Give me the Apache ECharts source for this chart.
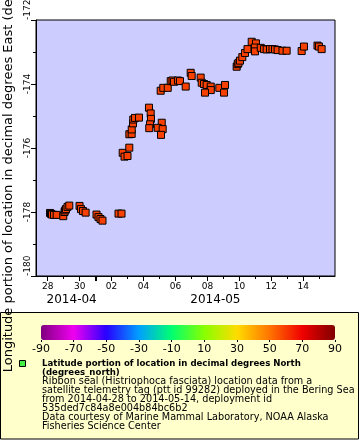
<!DOCTYPE html>
<html><head><meta charset="utf-8">
<script src="https://cdn.jsdelivr.net/npm/echarts@6/dist/echarts.min.js"></script>
<style>html,body{margin:0;padding:0;background:#fff}#c{width:360px;height:440px}</style>
</head><body><div id="c"></div>
<script>
// ---- data ----
const times = [
 '2014-04-28T03:30Z','2014-04-28T05:00Z','2014-04-28T06:30Z','2014-04-28T09:30Z','2014-04-28T13:30Z',
 '2014-04-28T23:25Z','2014-04-29T01:15Z','2014-04-29T02:20Z','2014-04-29T03:30Z','2014-04-29T05:45Z','2014-04-29T08:25Z',
 '2014-04-29T23:50Z','2014-04-30T02:00Z','2014-04-30T05:00Z','2014-04-30T09:00Z',
 '2014-05-01T01:20Z','2014-05-01T04:20Z','2014-05-01T07:20Z','2014-05-01T10:20Z',
 '2014-05-02T10:25Z','2014-05-02T14:55Z',
 '2014-05-02T16:40Z','2014-05-02T19:25Z','2014-05-02T23:55Z','2014-05-03T02:35Z',
 '2014-05-03T02:40Z','2014-05-03T06:10Z','2014-05-03T06:15Z','2014-05-03T08:10Z','2014-05-03T08:35Z','2014-05-03T11:10Z','2014-05-03T17:10Z',
 '2014-05-04T08:10Z','2014-05-04T10:45Z','2014-05-04T11:10Z','2014-05-04T09:40Z','2014-05-04T08:35Z',
 '2014-05-05T03:20Z','2014-05-04T21:20Z','2014-05-05T04:45Z','2014-05-05T02:15Z',
 '2014-05-05T01:45Z','2014-05-05T05:40Z','2014-05-05T12:20Z','2014-05-05T16:50Z','2014-05-05T19:30Z','2014-05-05T21:45Z',
 '2014-05-06T03:45Z','2014-05-06T06:45Z','2014-05-06T15:20Z',
 '2014-05-06T22:50Z','2014-05-07T00:20Z',
 '2014-05-07T13:50Z','2014-05-07T15:25Z','2014-05-07T18:50Z','2014-05-07T22:50Z','2014-05-08T04:55Z','2014-05-08T05:00Z','2014-05-07T20:20Z',
 '2014-05-08T17:50Z','2014-05-09T02:25Z','2014-05-09T00:55Z',
 '2014-05-09T19:55Z','2014-05-09T21:25Z','2014-05-09T22:40Z','2014-05-10T00:55Z','2014-05-10T04:25Z','2014-05-10T08:25Z','2014-05-10T12:10Z',
 '2014-05-10T18:30Z','2014-05-11T00:55Z','2014-05-10T23:25Z','2014-05-10T23:30Z','2014-05-11T08:05Z',
 '2014-05-11T13:00Z','2014-05-11T17:00Z','2014-05-11T22:00Z','2014-05-12T01:45Z','2014-05-12T05:30Z','2014-05-12T09:30Z','2014-05-12T16:45Z','2014-05-12T23:00Z',
 '2014-05-13T21:35Z','2014-05-14T01:00Z',
 '2014-05-14T21:20Z','2014-05-14T23:35Z','2014-05-15T03:35Z'
];
const lons = [
 -178.03,-178.06,-178.08,-178.09,-178.09,
 -178.13,-178.00,-177.95,-177.91,-177.84,-177.80,
 -177.81,-177.91,-177.97,-178.02,
 -178.08,-178.16,-178.22,-178.27,
 -178.05,-178.05,
 -176.15,-176.27,-176.25,-175.99,
 -175.57,-175.56,-175.42,-175.23,-175.11,-175.06,-175.05,
 -174.74,-174.92,-175.09,-175.26,-175.38,
 -175.21,-175.37,-175.41,-175.59,
 -174.21,-174.12,-174.12,-173.91,-173.89,-173.93,
 -173.89,-173.91,-174.08,
 -173.65,-173.75,
 -173.80,-173.96,-174.00,-174.03,-174.08,-174.19,-174.27,
 -174.12,-174.03,-174.27,
 -173.46,-173.38,-173.34,-173.27,-173.16,-173.03,-172.91,
 -172.68,-172.73,-172.86,-172.98,-172.87,
 -172.91,-172.92,-172.91,-172.91,-172.92,-172.94,-172.96,-172.96,
 -172.97,-172.83,
 -172.80,-172.83,-172.91
];
const lats = [
 59,59,59,59,59, 59,59,59,59,59,59, 59,59,59,59, 59,59,59,59, 59,59,
 59,59,59,59, 59,59,59,59,59,59,59, 59,59,59,59,59, 59,59,59,59,
 59,59,59,59,59,59, 59,59,59, 59,59, 59,59,59,59,59,59,59, 59,59,59,
 59,59,59,59,59,59,59, 59,59,59,59,59, 59,59,59,59,59,59,59,59, 59,59, 59,59,59
];
const xTickDates = ['2014-04-28','2014-04-30','2014-05-02','2014-05-04','2014-05-06','2014-05-08','2014-05-10','2014-05-12','2014-05-14'];
const xTickLabels = ['28','30','02','04','06','08','10','12','14'];
const xMinorDates = ['2014-04-27','2014-04-29','2014-05-01','2014-05-03','2014-05-05','2014-05-07','2014-05-09','2014-05-11','2014-05-13','2014-05-15'];
const monthBoundary = ['2014-05-01'];
const monthLabels = ['2014-04','2014-05'];
const monthLabelAt = ['2014-04-29T12:00Z','2014-05-08T12:00Z'];
const yTicks = [-180,-178,-176,-174,-172];
const colorTicks = [-90,-70,-50,-30,-10,10,30,50,70,90];
const colorStops = ['#7f007f','#f000f0','#2800ff','#00a0ff','#00ff70','#88ff00','#ffdc00','#ff7400','#f00000','#800000'];
const legendBold = ['Latitude portion of location in decimal degrees North','(degrees_north)'];
const legendLines = ['Ribbon seal (Histriophoca fasciata) location data from a',
 'satellite telemetry tag (ptt id 99282) deployed in the Bering Sea',
 'from 2014-04-28 to 2014-05-14, deployment id',
 '535ded7c84a8e004b84bc6b2',
 'Data courtesy of Marine Mammal Laboratory, NOAA Alaska',
 'Fisheries Science Center'];

// ---- chart ----
const FONT = 'DejaVu Sans';
const dayMs = s => Date.parse(s + 'T00:00:00Z');
const xMin = Date.UTC(2014,3,27,6,25);
const xMax = Date.UTC(2014,4,15,23,40);
const majorMs = xTickDates.map(dayMs);
const minorMs = xMinorDates.map(dayMs);
const boundMs = monthBoundary.map(dayMs);
const monthMs = monthLabelAt.map(s => Date.parse(s));
const data = times.map((t,i) => [Date.parse(t), lons[i], lats[i]]);

const baseX = {gridIndex:0,type:'value',min:xMin,max:xMax,position:'bottom',splitLine:{show:false}};
const chart = echarts.init(document.getElementById('c'));
const gfx = [
 {type:'rect',z:-10,shape:{x:0.5,y:312.5,width:358,height:126.5},style:{fill:'#ffffcc',stroke:'#000',lineWidth:1}},
 {type:'rect',z:10,shape:{x:19.5,y:360.5,width:6,height:6},style:{fill:'#44ee44',stroke:'#000',lineWidth:1}}
];
legendBold.forEach((t,i)=>gfx.push({type:'text',z:10,style:{text:t,x:42,y:363.3+9.05*i,font:'bold 8.6px "'+FONT+'"',fill:'#000',verticalAlign:'middle'}}));
legendLines.forEach((t,i)=>gfx.push({type:'text',z:10,style:{text:t,x:42,y:363.3+9.05*(i+2),font:'9.7px "'+FONT+'"',fill:'#000',verticalAlign:'middle'}}));

chart.setOption({
 animation:false,
 textStyle:{fontFamily:FONT},
 grid:[
  {left:36,top:20,width:299,height:256,show:true,backgroundColor:'#ccccff',borderColor:'#000',borderWidth:1,containLabel:false,outerBoundsMode:'none'},
  {left:41,top:325,width:294,height:15,show:false,containLabel:false,outerBoundsMode:'none'}
 ],
 xAxis:[
  Object.assign({},baseX,{
   axisLine:{show:true,onZero:false,lineStyle:{color:'#000',width:1}},
   axisTick:{show:true,length:5,customValues:majorMs,lineStyle:{color:'#000'}},
   axisLabel:{show:true,customValues:majorMs,margin:6,fontSize:9,color:'#000',fontFamily:FONT,
     formatter:v=>{const i=majorMs.indexOf(v);return i>=0?xTickLabels[i]:'';}}
  }),
  Object.assign({},baseX,{
   axisLine:{show:false},axisLabel:{show:false},
   axisTick:{show:true,length:3,customValues:minorMs,lineStyle:{color:'#000'}}
  }),
  Object.assign({},baseX,{
   axisLine:{show:false},axisLabel:{show:false},
   axisTick:{show:true,length:5,customValues:boundMs,lineStyle:{color:'#000',width:2}}
  }),
  Object.assign({},baseX,{
   axisLine:{show:false},axisTick:{show:false},
   axisLabel:{show:true,customValues:monthMs,margin:18,fontSize:12,color:'#000',fontFamily:FONT,
     formatter:v=>{const i=monthMs.indexOf(v);return i>=0?monthLabels[i]:'';}}
  }),
  {gridIndex:1,type:'value',min:-90,max:90,position:'bottom',splitLine:{show:false},
   axisLine:{show:false},
   axisTick:{show:true,length:2,customValues:colorTicks,lineStyle:{color:'#000'}},
   axisLabel:{show:true,customValues:colorTicks,margin:4,fontSize:11,color:'#000',fontFamily:FONT}}
 ],
 yAxis:[
  {gridIndex:0,type:'value',min:-180,max:-172,interval:2,
   name:'Longitude portion of location in decimal degrees East (degrees_east)',
   nameLocation:'middle',nameGap:16,nameTextStyle:{fontSize:13,color:'#000',fontFamily:FONT},
   axisLine:{show:true,lineStyle:{color:'#000'}},
   axisTick:{show:true,length:5,lineStyle:{color:'#000'}},
   minorTick:{show:true,splitNumber:2,length:3,lineStyle:{color:'#000'}},
   splitLine:{show:false},minorSplitLine:{show:false},
   axisLabel:{rotate:90,fontSize:9,margin:4,color:'#000',fontFamily:FONT,alignMinLabel:'left',alignMaxLabel:'left'}},
  {gridIndex:1,type:'value',show:false}
 ],
 visualMap:{type:'continuous',min:-90,max:90,dimension:2,seriesIndex:0,orient:'horizontal',
  left:41,top:325,itemWidth:15,itemHeight:294,padding:0,calculable:false,showLabel:false,text:null,
  inRange:{color:colorStops},z:5},
 graphic:gfx,
 series:[{type:'scatter',xAxisIndex:0,yAxisIndex:0,data:data,symbol:'rect',symbolSize:7,
  itemStyle:{borderColor:'#000',borderWidth:1,opacity:1}}]
});
</script></body></html>
